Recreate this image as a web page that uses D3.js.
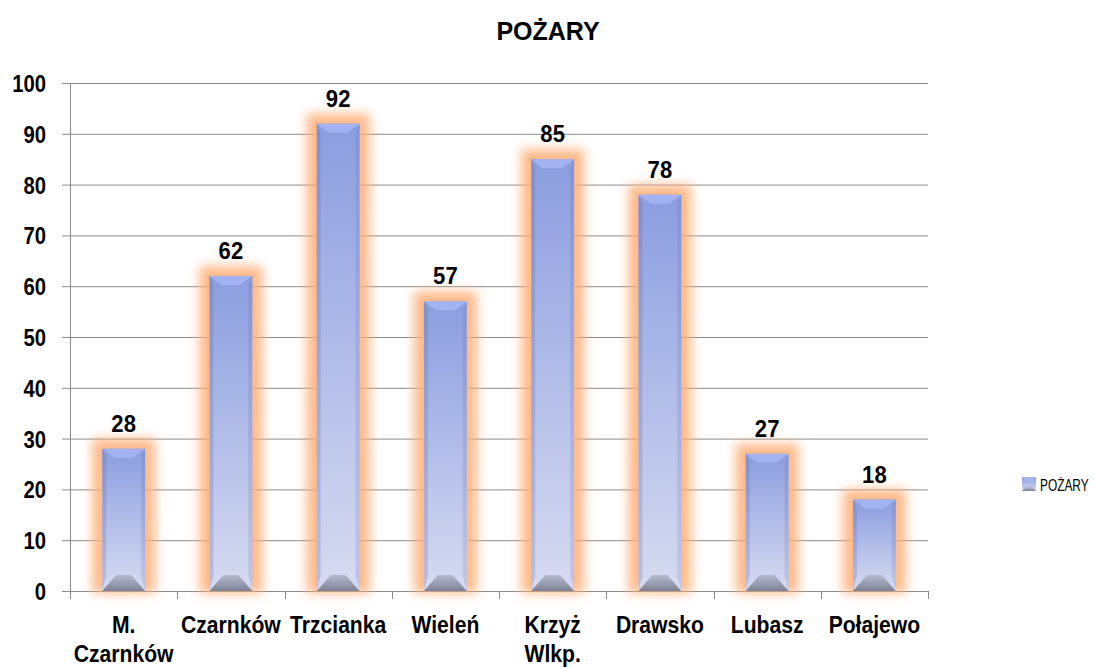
<!DOCTYPE html>
<html>
<head>
<meta charset="utf-8">
<script src="https://cdn.jsdelivr.net/npm/d3@7"></script>
<style>
  body { margin: 0; background: #fff; }
  svg { display: block; }
  .lbl { font-family: "Liberation Sans", Arial, sans-serif; font-weight: bold; fill: #000; }
</style>
</head>
<body>
<svg id="chart" width="1094" height="667"></svg>
<script>
// data
const categories = ["M. Czarnków", "Czarnków", "Trzcianka", "Wieleń", "Krzyż Wlkp.", "Drawsko", "Lubasz", "Połajewo"];
const catLines = [["M.", "Czarnków"], ["Czarnków"], ["Trzcianka"], ["Wieleń"], ["Krzyż", "Wlkp."], ["Drawsko"], ["Lubasz"], ["Połajewo"]];
const values = [28, 62, 92, 57, 85, 78, 27, 18];
const yTicks = [0, 10, 20, 30, 40, 50, 60, 70, 80, 90, 100];
const seriesName = "POŻARY";

const svg = d3.select("#chart");
const MARGIN = { left: 70, right: 166, top: 83, bottom: 76 };
const W = 1094, H = 667;
const NARROW = 0.88; // fake a condensed face

const x = d3.scaleBand().domain(categories).range([MARGIN.left, W - MARGIN.right]).paddingInner(0.6).paddingOuter(0.3);
const y = d3.scaleLinear().domain([0, 100]).range([H - MARGIN.bottom, MARGIN.top]);

const defs = svg.append("defs");

// bar body gradient (vertical)
const gBody = defs.append("linearGradient").attr("id", "body").attr("x1", 0).attr("y1", 0).attr("x2", 0).attr("y2", 1);
gBody.append("stop").attr("offset", "0%").attr("stop-color", "#8b9de0");
gBody.append("stop").attr("offset", "100%").attr("stop-color", "#d7dbf1");

// bottom bevel
const gBot = defs.append("linearGradient").attr("id", "bot").attr("x1", 0).attr("y1", 0).attr("x2", 0).attr("y2", 1);
gBot.append("stop").attr("offset", "0%").attr("stop-color", "#b7bbd0");
gBot.append("stop").attr("offset", "100%").attr("stop-color", "#7d8195");

// glow
const glow = defs.append("filter").attr("id", "glow").attr("x", "-50%").attr("y", "-50%").attr("width", "200%").attr("height", "200%");
glow.append("feGaussianBlur").attr("stdDeviation", 5.5);

// grid lines
svg.append("g").selectAll("line").data(yTicks).join("line")
  .attr("x1", MARGIN.left - 8).attr("x2", W - MARGIN.right)
  .attr("y1", d => y(d) + 0.5).attr("y2", d => y(d) + 0.5)
  .attr("stroke", "#8c8c8c").attr("stroke-width", 1);

// y axis line
svg.append("line").attr("x1", MARGIN.left + 0.5).attr("x2", MARGIN.left + 0.5)
  .attr("y1", y(100)).attr("y2", y(0)).attr("stroke", "#8c8c8c");

// x axis ticks at band boundaries
const bounds = d3.range(categories.length + 1).map(i => MARGIN.left + i * (W - MARGIN.right - MARGIN.left) / categories.length);
svg.append("g").selectAll("line").data(bounds).join("line")
  .attr("x1", d => Math.round(d) + 0.5).attr("x2", d => Math.round(d) + 0.5)
  .attr("y1", y(0)).attr("y2", y(0) + 8).attr("stroke", "#8c8c8c");

// y labels
svg.append("g").selectAll("text").data(yTicks).join("text")
  .attr("class", "lbl")
  .attr("transform", d => `translate(46,${y(d) + 9}) scale(${NARROW},1)`)
  .attr("text-anchor", "end").attr("font-size", 23)
  .text(d => d);

const bars = svg.append("g").selectAll("g").data(values).join("g");
const bw = x.bandwidth();

// glow behind
bars.append("rect")
  .attr("x", (d, i) => x(categories[i]) - 10)
  .attr("y", d => y(d) - 10)
  .attr("width", bw + 20)
  .attr("height", d => y(0) - y(d) + 12)
  .attr("fill", "#ffad74").attr("opacity", 0.85)
  .attr("filter", "url(#glow)");

// body
bars.append("rect")
  .attr("x", (d, i) => x(categories[i]))
  .attr("y", d => y(d))
  .attr("width", bw)
  .attr("height", d => y(0) - y(d))
  .attr("fill", "url(#body)");

// side shades
bars.append("path")
  .attr("d", (d, i) => {
    const x0 = x(categories[i]), t = y(d), b = y(0);
    return `M${x0},${t}L${x0 + 4},${t + 8}L${x0 + 4},${b - 15}L${x0},${b}Z`;
  })
  .attr("fill", "#5d6aa8").attr("opacity", 0.25);
bars.append("path")
  .attr("d", (d, i) => {
    const x1 = x(categories[i]) + bw, t = y(d), b = y(0);
    return `M${x1},${t}L${x1 - 4},${t + 8}L${x1 - 4},${b - 15}L${x1},${b}Z`;
  })
  .attr("fill", "#5d6aa8").attr("opacity", 0.18);

// top bevel
bars.append("path")
  .attr("d", (d, i) => {
    const x0 = x(categories[i]), t = y(d);
    return `M${x0},${t}L${x0 + bw},${t}L${x0 + bw - 12},${t + 9}L${x0 + 12},${t + 9}Z`;
  })
  .attr("fill", "#a3b3f2");

// bottom bevel
bars.append("path")
  .attr("d", (d, i) => {
    const x0 = x(categories[i]), b = y(0);
    return `M${x0},${b}L${x0 + bw},${b}L${x0 + bw - 14},${b - 16}L${x0 + 14},${b - 16}Z`;
  })
  .attr("fill", "url(#bot)");

// value labels
bars.append("text")
  .attr("class", "lbl")
  .attr("transform", (d, i) => `translate(${x(categories[i]) + bw / 2},${y(d) - 17}) scale(0.92,1)`)
  .attr("text-anchor", "middle").attr("font-size", 24)
  .text(d => d);

// category labels
svg.append("g").selectAll("text").data(catLines).join("text")
  .attr("class", "lbl")
  .attr("text-anchor", "middle").attr("font-size", 24)
  .attr("transform", (d, i) => `translate(${x(categories[i]) + bw / 2},633) scale(${NARROW},1)`)
  .selectAll("tspan").data(d => d).join("tspan")
  .attr("x", 0)
  .attr("dy", (d, j) => j === 0 ? 0 : 29)
  .text(d => d);

// title
svg.append("text").attr("class", "lbl")
  .attr("x", 548).attr("y", 40).attr("text-anchor", "middle").attr("font-size", 25)
  .text(seriesName);

// legend
const lg = svg.append("g").attr("transform", "translate(1022,477)");
lg.append("rect").attr("width", 14).attr("height", 14).attr("fill", "url(#body)");
lg.append("path").attr("d", "M0,0L14,0L10,4L4,4Z").attr("fill", "#a3b3f2");
lg.append("path").attr("d", "M0,14L14,14L10,10L4,10Z").attr("fill", "url(#bot)");
lg.append("text").attr("transform", "translate(18,14) scale(0.7,1)")
  .attr("font-family", "'Liberation Sans', Arial, sans-serif").attr("font-size", 17).attr("fill", "#000")
  .text(seriesName);
</script>
</body>
</html>
